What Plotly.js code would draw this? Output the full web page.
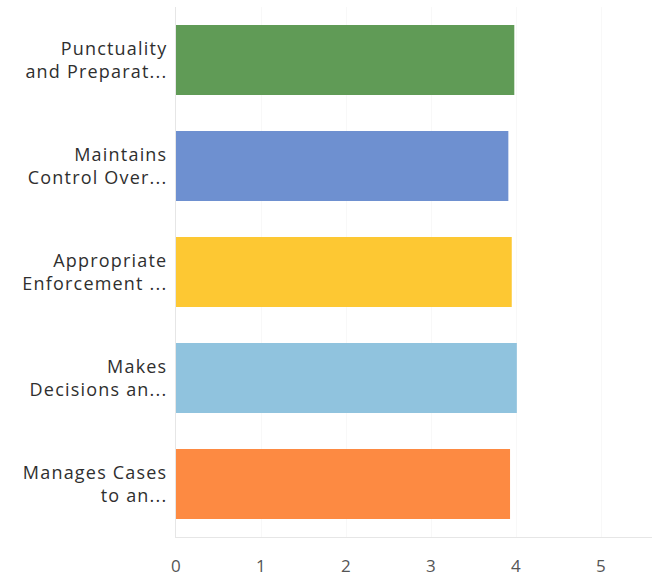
<!DOCTYPE html>
<html>
<head>
<meta charset="utf-8">
<script src="https://cdn.plot.ly/plotly-3.0.1.min.js"></script>
<style>html,body{margin:0;padding:0;background:#fff}#chart{width:654px;height:578px}
#chart .ytick text{letter-spacing:1.2px}
#chart .xtick text{letter-spacing:0.5px}</style>
</head>
<body>
<div id="chart"></div>
<script>
const categories = [
  "Punctuality<br>and Preparat...",
  "Maintains<br>Control Over...",
  "Appropriate<br>Enforcement ...",
  "Makes<br>Decisions an...",
  "Manages Cases<br>to an..."
];
const values = [3.98, 3.91, 3.95, 4.01, 3.93];
const barColors = ["#609b56", "#6e90d0", "#fdc833", "#90c3de", "#fd8a42"];
const xTicks = [0, 1, 2, 3, 4, 5];

Plotly.newPlot("chart", [{
  type: "bar",
  orientation: "h",
  y: categories,
  x: values,
  marker: {color: barColors},
  hoverinfo: "none"
}], {
  width: 654, height: 578,
  margin: {l: 176, r: 2, t: 7, b: 41},
  paper_bgcolor: "#fff", plot_bgcolor: "#fff",
  bargap: 0.34,
  showlegend: false,
  font: {family: "Open Sans, sans-serif", size: 18, color: "#2f2f2f"},
  xaxis: {
    range: [0, 5.6],
    tickvals: xTicks,
    ticktext: xTicks.map(String),
    showgrid: true, gridcolor: "#f8f8f8",
    zeroline: false,
    showline: true, linecolor: "#e6e6e6",
    ticks: "outside", ticklen: 14, tickcolor: "rgba(0,0,0,0)",
    tickfont: {size: 17, color: "#555"},
    fixedrange: true
  },
  yaxis: {
    autorange: "reversed",
    showgrid: false, zeroline: false,
    showline: true, linecolor: "#e6e6e6",
    ticks: "outside", ticklen: 4, tickcolor: "rgba(0,0,0,0)",
    tickfont: {size: 18, color: "#2f2f2f"},
    fixedrange: true
  }
}, {staticPlot: true});
</script>
</body>
</html>
